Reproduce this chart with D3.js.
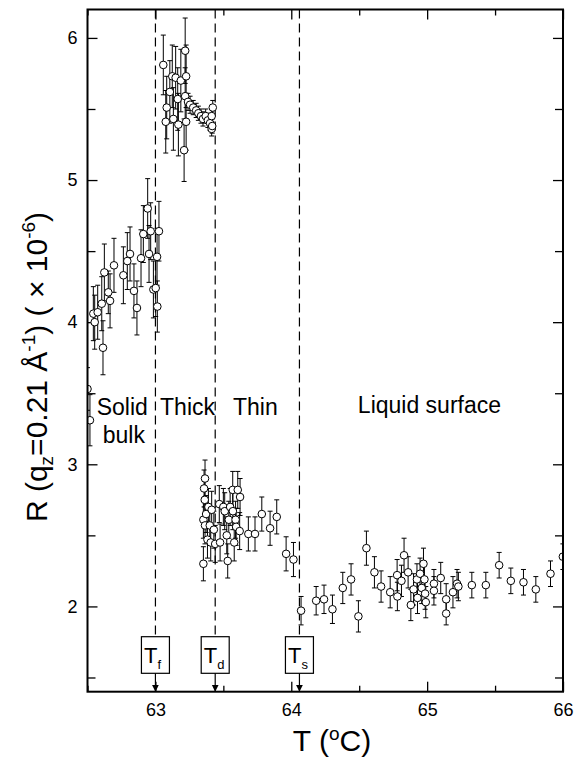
<!DOCTYPE html>
<html>
<head>
<meta charset="utf-8">
<script src="https://cdn.jsdelivr.net/npm/d3@7"></script>
<style>
  body { margin: 0; background: #fff; }
  text { font-family: "Liberation Sans", Arial, sans-serif; fill: #000; }
</style>
</head>
<body>
<div id="chart"></div>
<script>
// temperature (C), reflectivity (x1e-6) and error bar half-heights
var temps = [
  62.500, 62.518, 62.543, 62.553, 62.575, 62.605, 62.614, 62.624, 62.653, 62.666,
  62.695, 62.764, 62.793, 62.813, 62.842, 62.864, 62.894, 62.911, 62.943, 62.953,
  62.965, 62.985, 63.002, 63.012, 63.014, 63.026,
  63.058, 63.076, 63.083, 63.106, 63.124, 63.132, 63.149, 63.164, 63.169, 63.187,
  63.211, 63.219, 63.226, 63.219, 63.226, 63.240, 63.255, 63.278, 63.300, 63.316,
  63.335, 63.350, 63.370, 63.386, 63.402, 63.414, 63.414, 63.422, 63.418,
  63.353, 63.353, 63.358, 63.363, 63.365, 63.365, 63.373, 63.383, 63.390, 63.400,
  63.407, 63.414, 63.430, 63.440, 63.470, 63.476, 63.500, 63.510, 63.525, 63.532,
  63.540, 63.550, 63.569, 63.570, 63.580, 63.590, 63.594, 63.606, 63.623, 63.620,
  63.684, 63.733, 63.783, 63.844, 63.893, 63.962, 64.016,
  64.072, 64.183, 64.241, 64.303, 64.379, 64.440, 64.494, 64.553, 64.612, 64.661,
  64.728, 64.779, 64.781, 64.811, 64.830, 64.860, 64.880, 64.900, 64.925, 64.929,
  64.948, 64.960, 64.973, 64.980, 64.985, 64.990, 65.050, 65.050, 65.100, 65.140,
  65.140, 65.190, 65.220, 65.230, 65.329, 65.432, 65.530, 65.616, 65.709, 65.800,
  65.908, 65.999
];
var refl = [
  3.53, 3.31, 4.06, 4.00, 4.07, 4.13, 3.82, 4.35, 4.21, 4.15,
  4.40, 4.33, 4.43, 4.48, 4.22, 4.10, 4.45, 4.62, 4.80, 4.48,
  4.64, 4.23, 4.24, 4.46, 4.11, 4.64,
  5.81, 5.41, 5.51, 5.62, 5.73, 5.43, 5.72, 5.57, 5.39, 5.70,
  5.21, 5.91, 5.73, 5.59, 5.41, 5.55, 5.53, 5.51, 5.49, 5.47,
  5.45, 5.43, 5.45, 5.42, 5.40, 5.36, 5.45, 5.51, 5.38,
  2.30, 2.61, 2.83, 2.75, 2.90, 2.57, 2.65, 2.47, 2.70, 2.57,
  2.45, 2.68, 2.54, 2.44, 2.72, 2.45, 2.70, 2.67, 2.50, 2.32,
  2.61, 2.70, 2.82, 2.67, 2.45, 2.61, 2.56, 2.82, 2.77, 2.53,
  2.51, 2.51, 2.65, 2.55, 2.63, 2.37, 2.33,
  1.97, 2.04, 2.05, 1.98, 2.13, 2.19, 1.93, 2.41, 2.24, 2.14,
  2.10, 2.22, 2.07, 2.18, 2.36, 2.24, 2.01, 2.12, 2.19, 2.06,
  2.23, 2.13, 2.30, 2.19, 2.09, 2.03, 2.16, 2.11, 2.20, 2.05,
  1.95, 2.10, 2.16, 2.14, 2.15, 2.15, 2.29, 2.18, 2.17, 2.12,
  2.23, 2.35
];
var errs = [
  0.15, 0.18, 0.19, 0.19, 0.19, 0.19, 0.19, 0.20, 0.15, 0.19,
  0.19, 0.20, 0.20, 0.19, 0.19, 0.19, 0.20, 0.20, 0.21, 0.20,
  0.20, 0.20, 0.20, 0.20, 0.18, 0.21,
  0.21, 0.22, 0.22, 0.22, 0.22, 0.22, 0.22, 0.22, 0.22, 0.22,
  0.22, 0.23, 0.22, 0.20, 0.20, 0.06, 0.06, 0.05, 0.05, 0.05,
  0.05, 0.05, 0.05, 0.05, 0.05, 0.05, 0.05, 0.05, 0.05,
  0.12, 0.13, 0.13, 0.13, 0.13, 0.13, 0.13, 0.13, 0.13, 0.13,
  0.13, 0.13, 0.13, 0.13, 0.13, 0.13, 0.13, 0.13, 0.13, 0.12,
  0.13, 0.13, 0.13, 0.13, 0.13, 0.13, 0.13, 0.13, 0.13, 0.13,
  0.12, 0.12, 0.12, 0.12, 0.12, 0.12, 0.12,
  0.10, 0.10, 0.10, 0.10, 0.11, 0.11, 0.11, 0.12, 0.11, 0.11,
  0.11, 0.11, 0.10, 0.11, 0.12, 0.11, 0.11, 0.11, 0.11, 0.11,
  0.11, 0.11, 0.11, 0.11, 0.11, 0.11, 0.10, 0.10, 0.11, 0.11,
  0.08, 0.11, 0.10, 0.10, 0.09, 0.09, 0.09, 0.09, 0.09, 0.09,
  0.09, 0.09
];

var xMajor = [63, 64, 65, 66];
var xMinor = [62.5, 63.5, 64.5, 65.5];
var yMajor = [2, 3, 4, 5, 6];
var yMinor = [1.5, 2.5, 3.5, 4.5, 5.5];

var transitions = [63.0, 63.44, 64.06];
var transitionSubs = ["f", "d", "s"];

var regionNames = ["Solid", "bulk", "Thick", "Thin", "Liquid surface"];
var regionAt = [[62.568, 3.345], [62.612, 3.15], [63.034, 3.345], [63.571, 3.345], [64.49, 3.36]];

var width = 579, height = 763;
var pLeft = 87.5, pRight = 563, pTop = 9.5, pBottom = 691.7;

var svg = d3.select("#chart").append("svg")
  .attr("width", width)
  .attr("height", height);

var x = d3.scaleLinear().domain([62.5, 66]).range([pLeft, pRight]);
var y = d3.scaleLinear().domain([1.4, 6.2]).range([pBottom, pTop]);

var defs = svg.append("defs");
defs.append("clipPath").attr("id", "plotclip")
  .append("rect")
  .attr("x", pLeft).attr("y", pTop)
  .attr("width", pRight - pLeft).attr("height", pBottom - pTop);

defs.append("marker")
  .attr("id", "arrow")
  .attr("viewBox", "0 -5 10 10")
  .attr("refX", 10)
  .attr("refY", 0)
  .attr("markerUnits", "userSpaceOnUse")
  .attr("markerWidth", 7)
  .attr("markerHeight", 10)
  .attr("orient", "auto")
  .append("path")
  .attr("d", "M0,-5L10,0L0,5Z")
  .attr("fill", "#000");

// axes, ticks inside
function styleAxis(g) {
  g.select(".domain").remove();
  g.selectAll("line").attr("stroke", "#000").attr("stroke-width", 1.3);
  g.selectAll("text").style("font-size", "18px")
    .style("font-family", '"Liberation Sans", Arial, sans-serif');
}

svg.append("g").attr("transform", "translate(0," + pBottom + ")")
  .call(d3.axisBottom(x).tickValues(xMajor).tickSize(-10).tickPadding(12).tickFormat(d3.format("d")))
  .call(styleAxis);
svg.append("g").attr("transform", "translate(0," + pBottom + ")")
  .call(d3.axisBottom(x).tickValues(xMinor).tickSize(-6).tickFormat(""))
  .call(styleAxis);
svg.append("g").attr("transform", "translate(0," + pTop + ")")
  .call(d3.axisTop(x).tickValues(xMajor).tickSize(-10).tickFormat(""))
  .call(styleAxis);
svg.append("g").attr("transform", "translate(0," + pTop + ")")
  .call(d3.axisTop(x).tickValues(xMinor).tickSize(-6).tickFormat(""))
  .call(styleAxis);

svg.append("g").attr("transform", "translate(" + pLeft + ",0)")
  .call(d3.axisLeft(y).tickValues(yMajor).tickSize(-10).tickPadding(10).tickFormat(d3.format("d")))
  .call(styleAxis);
svg.append("g").attr("transform", "translate(" + pLeft + ",0)")
  .call(d3.axisLeft(y).tickValues(yMinor).tickSize(-8).tickFormat(""))
  .call(styleAxis);
svg.append("g").attr("transform", "translate(" + pRight + ",0)")
  .call(d3.axisRight(y).tickValues(yMajor).tickSize(-10).tickFormat(""))
  .call(styleAxis);
svg.append("g").attr("transform", "translate(" + pRight + ",0)")
  .call(d3.axisRight(y).tickValues(yMinor).tickSize(-8).tickFormat(""))
  .call(styleAxis);

// transition markers: dashed line, labelled box, arrow to axis
var boxW = 28, boxTop = 636.7, boxH = 36.6;
var tr = svg.append("g").selectAll("g")
  .data(transitions)
  .enter().append("g");

tr.append("line")
  .attr("x1", function(d) { return x(d); })
  .attr("x2", function(d) { return x(d); })
  .attr("y1", pTop)
  .attr("y2", boxTop)
  .attr("stroke", "#000")
  .attr("stroke-width", 1.2)
  .attr("stroke-dasharray", "9,5");

tr.append("rect")
  .attr("x", function(d) { return x(d) - boxW / 2; })
  .attr("y", boxTop)
  .attr("width", boxW)
  .attr("height", boxH)
  .attr("fill", "#fff")
  .attr("stroke", "#000")
  .attr("stroke-width", 1.2);

var tlab = tr.append("text")
  .attr("x", function(d) { return x(d) - boxW / 2 + 2.5; })
  .attr("y", 662.5)
  .style("font-size", "22px");
tlab.append("tspan").text("T");
tlab.append("tspan")
  .attr("dy", 6)
  .style("font-size", "13px")
  .text(function(d, i) { return transitionSubs[i]; });

tr.append("line")
  .attr("x1", function(d) { return x(d); })
  .attr("x2", function(d) { return x(d); })
  .attr("y1", boxTop + boxH)
  .attr("y2", pBottom)
  .attr("stroke", "#000")
  .attr("stroke-width", 1.2)
  .attr("marker-end", "url(#arrow)");

// region labels
svg.append("g").selectAll("text")
  .data(regionNames)
  .enter().append("text")
  .attr("x", function(d, i) { return x(regionAt[i][0]); })
  .attr("y", function(d, i) { return y(regionAt[i][1]); })
  .style("font-size", "23px")
  .text(function(d) { return d; });

// data: error bars then open circles
var pts = temps.map(function(t, i) { return { t: t, r: refl[i], e: errs[i] }; });
var plot = svg.append("g").attr("clip-path", "url(#plotclip)");

var eb = plot.append("g").selectAll("g")
  .data(pts)
  .enter().append("g")
  .attr("stroke", "#000")
  .attr("stroke-width", 1);
eb.append("line")
  .attr("x1", function(d) { return x(d.t); })
  .attr("x2", function(d) { return x(d.t); })
  .attr("y1", function(d) { return y(d.r + d.e); })
  .attr("y2", function(d) { return y(d.r - d.e); });
eb.append("line")
  .attr("x1", function(d) { return x(d.t) - 2.5; })
  .attr("x2", function(d) { return x(d.t) + 2.5; })
  .attr("y1", function(d) { return y(d.r + d.e); })
  .attr("y2", function(d) { return y(d.r + d.e); });
eb.append("line")
  .attr("x1", function(d) { return x(d.t) - 2.5; })
  .attr("x2", function(d) { return x(d.t) + 2.5; })
  .attr("y1", function(d) { return y(d.r - d.e); })
  .attr("y2", function(d) { return y(d.r - d.e); });

plot.append("g").selectAll("circle")
  .data(pts)
  .enter().append("circle")
  .attr("cx", function(d) { return x(d.t); })
  .attr("cy", function(d) { return y(d.r); })
  .attr("r", 3.8)
  .attr("fill", "#fff")
  .attr("stroke", "#000")
  .attr("stroke-width", 1);

// frame
svg.append("rect")
  .attr("x", pLeft).attr("y", pTop)
  .attr("width", pRight - pLeft).attr("height", pBottom - pTop)
  .attr("fill", "none")
  .attr("stroke", "#000")
  .attr("stroke-width", 2);

// axis titles
var xt = svg.append("text")
  .attr("x", 332)
  .attr("y", 751)
  .attr("text-anchor", "middle")
  .style("font-size", "30px");
xt.append("tspan").text("T (");
xt.append("tspan").attr("dy", -11).style("font-size", "19px").text("o");
xt.append("tspan").attr("dy", 11).text("C)");

var yt = svg.append("text")
  .attr("transform", "translate(47,367) rotate(-90)")
  .attr("text-anchor", "middle")
  .style("font-size", "30px");
yt.append("tspan").text("R (q");
yt.append("tspan").attr("dy", 6).style("font-size", "19px").text("z");
yt.append("tspan").attr("dy", -6).text("=0.21 Å");
yt.append("tspan").attr("dy", -12).style("font-size", "19px").text("-1");
yt.append("tspan").attr("dy", 12).text(") ( × 10");
yt.append("tspan").attr("dy", -12).style("font-size", "19px").text("-6");
yt.append("tspan").attr("dy", 12).text(")");
</script>
</body>
</html>
